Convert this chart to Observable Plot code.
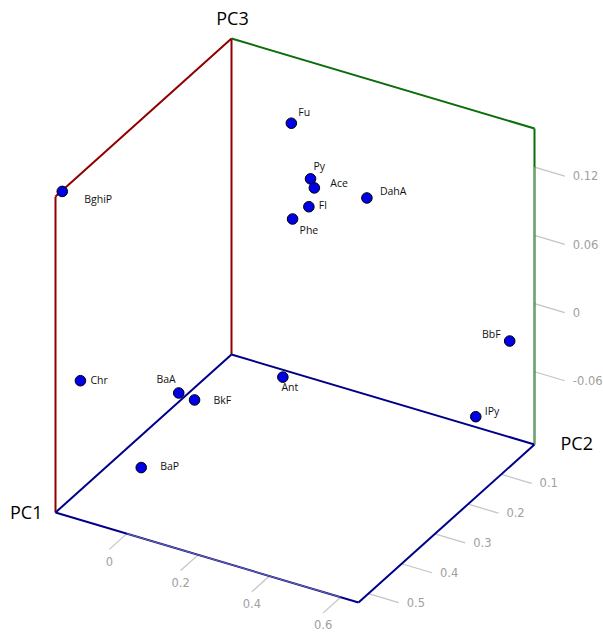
<!DOCTYPE html>
<html><head><meta charset="utf-8">
<script src="https://cdn.jsdelivr.net/npm/d3@7"></script>
<script src="https://cdn.jsdelivr.net/npm/@observablehq/plot@0.6"></script>
<style>html,body{margin:0;padding:0;background:#fff;overflow:hidden}</style>
</head><body><div id="chart"></div>
<script>
// ---- data (PCA loadings) ----
const names = ["Fu","Py","Ace","Fl","Phe","DahA","BghiP","BbF","IPy","Chr","BaA","BkF","BaP","Ant"];
const pc1 = [0.10, 0.20, 0.24, 0.22, 0.18, 0.10, 0.515, 0.05, 0.12, 0.50, 0.38, 0.40, 0.45, 0.03];
const pc2 = [0.061, 0.208, 0.256, 0.222, 0.139, 0.273, -0.195, 0.627, 0.597, -0.158, 0.006, 0.069, -0.034, -0.028];
const pc3 = [0.130, 0.121, 0.128, 0.103, 0.074, 0.084, 0.155, -0.022, -0.073, -0.012, -0.039, -0.034, -0.090, -0.120];
const pc1Ticks = [0.1, 0.2, 0.3, 0.4, 0.5];
const pc2Ticks = [0, 0.2, 0.4, 0.6];
const pc3Ticks = [-0.06, 0, 0.06, 0.12];
const pc3TickLabels = ["-0.06", "0", "0.06", "0.12"];
const axisTitles = ["PC1", "PC2", "PC3"];
const domain1 = [0, 0.53], domain2 = [-0.2, 0.65], domain3 = [-0.124, 0.154];

// ---- view (oblique projection of the 3D box) ----
const view = {origin: [231, 354], e1: [-176, 158], e2: [303, 90], e3: [0, -316]};
function project(p1, p2, p3) {
  const t1 = (p1 - domain1[0]) / (domain1[1] - domain1[0]);
  const t2 = (p2 - domain2[0]) / (domain2[1] - domain2[0]);
  const t3 = (p3 - domain3[0]) / (domain3[1] - domain3[0]);
  return [
    view.origin[0] + t1 * view.e1[0] + t2 * view.e2[0] + t3 * view.e3[0],
    view.origin[1] + t1 * view.e1[1] + t2 * view.e2[1] + t3 * view.e3[1]
  ];
}
const [a0, a1] = domain1, [b0, b1] = domain2, [c0, c1] = domain3;
const RED = "#900000", GREEN = "#0a6e0a", BLUE = "#000088";
const edgeDefs = [
  [[a0,b0,c0],[a0,b0,c1],RED],
  [[a0,b0,c1],[a1,b0,c1],RED],
  [[a1,b0,c1],[a1,b0,c0],RED],
  [[a0,b0,c1],[a0,b1,c1],GREEN],
  [[a0,b1,c1],[a0,b1,c0],GREEN],
  [[a0,b0,c0],[a1,b0,c0],BLUE],
  [[a0,b0,c0],[a0,b1,c0],BLUE],
  [[a1,b0,c0],[a1,b1,c0],BLUE],
  [[a0,b1,c0],[a1,b1,c0],BLUE]
];
const edges = edgeDefs.map(([p, q, color]) => {
  const [x1, y1] = project(...p), [x2, y2] = project(...q);
  return {x1, y1, x2, y2, color};
});
// light axis lines drawn over the box edges between ticks
const overlays = [
  [[a1, pc2Ticks[0], c0], [a1, pc2Ticks[pc2Ticks.length-1], c0]],
  [[a0, b1, c0], [a0, b1, pc3Ticks[pc3Ticks.length-1]]]
].map(([p, q]) => { const [x1,y1]=project(...p),[x2,y2]=project(...q); return {x1,y1,x2,y2}; });

const tick1 = 0.0527, tick2 = 0.085;
const ticks = [];
const tickLabels = [];
pc1Ticks.forEach(v => {
  const [x1,y1] = project(v, b1, c0), [x2,y2] = project(v, b1 + tick2, c0);
  ticks.push({x1,y1,x2,y2}); tickLabels.push({x: x2, y: y2, text: String(v), anchor: "start"});
});
pc2Ticks.forEach(v => {
  const [x1,y1] = project(a1, v, c0), [x2,y2] = project(a1 + tick1, v, c0);
  ticks.push({x1,y1,x2,y2}); tickLabels.push({x: x2, y: y2, text: String(v), anchor: "middle"});
});
pc3Ticks.forEach((v, i) => {
  const [x1,y1] = project(a0, b1, v), [x2,y2] = project(a0, b1 + tick2, v);
  ticks.push({x1,y1,x2,y2}); tickLabels.push({x: x2, y: y2, text: pc3TickLabels[i], anchor: "start"});
});

const points = names.map((n, i) => {
  const [x, y] = project(pc1[i], pc2[i], pc3[i]);
  return {name: n, x, y};
});
// label placement relative to each dot: [dx, dy, anchor]
const labelPlace = {
  Fu:[7,-11,"start"], Py:[3,-12,"start"], Ace:[16,-4,"start"], DahA:[13,-6,"start"],
  Fl:[10,-1,"start"], Phe:[7,12,"start"], BghiP:[22,8,"start"], BbF:[-9,-6,"end"],
  IPy:[9,-5,"start"], Chr:[10,0,"start"], BaA:[-3,-13,"end"], BkF:[19,1,"start"],
  BaP:[19,-1,"start"], Ant:[7,11,"middle"]
};
const labelMarks = points.map(p => {
  const [dx, dy, anchor] = labelPlace[p.name];
  return Plot.text([p], {x: "x", y: "y", text: "name", dx, dy, textAnchor: anchor,
    fontSize: 10.5, fontFamily: "Open Sans", fill: "#111"});
});

const corner1 = project(a1, b0, c0), corner2 = project(a0, b1, c0), corner3 = project(a0, b0, c1);
const titles = [
  {x: corner1[0], y: corner1[1], text: axisTitles[0], dx: -13, dy: 1, anchor: "end"},
  {x: corner2[0], y: corner2[1], text: axisTitles[1], dx: 26, dy: 0, anchor: "start"},
  {x: corner3[0], y: corner3[1], text: axisTitles[2], dx: 1, dy: -19, anchor: "middle"}
];

const W = 603, H = 632;
const chart = Plot.plot({
  width: W, height: H, margin: 0,
  x: {domain: [0, W], range: [0, W], axis: null},
  y: {domain: [0, H], range: [0, H], axis: null},
  style: {background: "#fff", fontFamily: "Open Sans"},
  marks: [
    Plot.link(ticks, {x1: "x1", y1: "y1", x2: "x2", y2: "y2", stroke: "#c4c4c4", strokeWidth: 1.2}),
    Plot.link(edges, {x1: "x1", y1: "y1", x2: "x2", y2: "y2", stroke: "color", strokeWidth: 2}),
    Plot.link(overlays, {x1: "x1", y1: "y1", x2: "x2", y2: "y2", stroke: "#c8c8c8", strokeWidth: 0.8, strokeOpacity: 0.7}),
    ...["start", "middle"].map(anchor => Plot.text(tickLabels.filter(d => d.anchor === anchor), {
      x: "x", y: "y", text: "text", textAnchor: anchor,
      dx: anchor === "start" ? 8 : 0, dy: anchor === "start" ? 0.5 : 12.5,
      fontSize: 11.5, fontFamily: "DejaVu Sans", fill: "#a0a0a0"
    })),
    Plot.dot(points, {x: "x", y: "y", r: 5.3, fill: "#0000e6", stroke: "#000", strokeWidth: 1}),
    ...labelMarks,
    ...titles.map(t => Plot.text([t], {x: "x", y: "y", text: "text", dx: t.dx, dy: t.dy,
      textAnchor: t.anchor, fontSize: 18, fontFamily: "Open Sans", fill: "#000"}))
  ]
});
document.getElementById("chart").appendChild(chart);
</script>
</body></html>
